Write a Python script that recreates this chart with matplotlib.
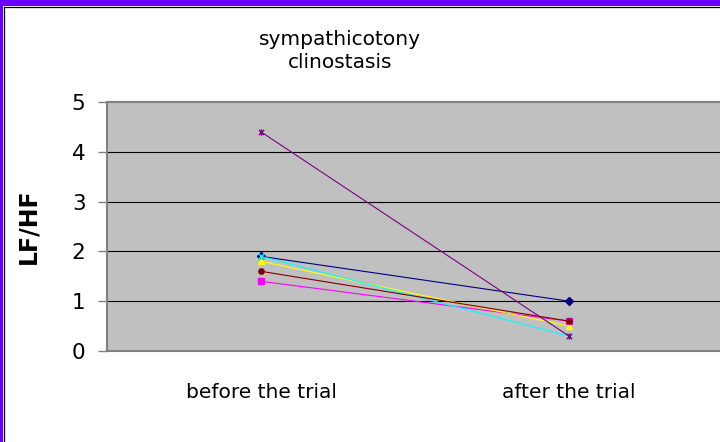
import matplotlib
matplotlib.use("Agg")
import matplotlib.pyplot as plt
from matplotlib.patches import Rectangle
from matplotlib.lines import Line2D
from matplotlib.path import Path

categories = ["before the trial", "after the trial"]
series_values = [
    [1.9, 1.0],
    [1.4, 0.6],
    [1.8, 0.5],
    [1.9, 0.3],
    [4.4, 0.3],
    [1.6, 0.6],
]
series_colors = ["#000080", "#FF00FF", "#FFFF00", "#00FFFF", "#800080", "#800000"]
y_ticks = [0, 1, 2, 3, 4, 5]
title = "sympathicotony\nclinostasis"
y_label = "LF/HF"

plt.rcParams['font.family'] = ['DejaVu Sans']

star = Path([(-1, -1), (1, 1), (-1, 1), (1, -1), (0, -1.2), (0, 1.2)],
            [Path.MOVETO, Path.LINETO, Path.MOVETO, Path.LINETO, Path.MOVETO, Path.LINETO])
series_markers = ["D", "s", "^", "x", star, "o"]

W, H = 720, 442
fig = plt.figure(figsize=(W / 100, H / 100), dpi=100)
fig.patch.set_facecolor("white")

left, right, top, bottom = 107, 723, 102, 351
ax = fig.add_axes([left / W, 1 - bottom / H, (right - left) / W, (bottom - top) / H])
ax.set_facecolor("#C0C0C0")

x = list(range(len(categories)))
for vals, c, m in zip(series_values, series_colors, series_markers):
    ms = 3.8 if isinstance(m, str) and m in ("D", "s", "o", "^") else 4.5
    ax.plot(x, vals, color=c, lw=0.8, marker=m, ms=ms, mfc=c, mec=c, mew=1, zorder=3)

ax.set_xlim(-0.5, len(categories) - 0.5)
ax.set_ylim(min(y_ticks), max(y_ticks))
ax.set_yticks(y_ticks)
ax.set_xticks(x)
ax.set_xticklabels(categories, fontsize=14.5)
ax.tick_params(axis="x", length=0, pad=23)
ax.tick_params(axis="y", length=6.5, width=1, color="#808080", pad=9, labelsize=15.5)
for yv in y_ticks[1:-1]:
    ax.axhline(yv, color="black", lw=0.8, zorder=1)
for sp in ax.spines.values():
    sp.set_color("#808080")
    sp.set_linewidth(1.5)

fig.text(340 / W, 1 - 51 / H, title, ha="center", va="center", fontsize=14.5, linespacing=1.25)
fig.text(28 / W, 1 - 226 / H, y_label, ha="center", va="center", rotation=90,
         fontsize=17, fontweight="bold")

# purple frame (top and left edges)
fig.patches.append(Rectangle((0, 1 - 6 / H), 1, 6 / H, transform=fig.transFigure,
                             facecolor="#6600FF", edgecolor="none", zorder=10))
fig.patches.append(Rectangle((0, 0), 3 / W, 1, transform=fig.transFigure,
                             facecolor="#6600FF", edgecolor="none", zorder=10))
fig.lines.append(Line2D([3.5 / W, 1], [1 - 6.5 / H, 1 - 6.5 / H], transform=fig.transFigure,
                        color="black", lw=0.9, zorder=11))
fig.lines.append(Line2D([3.5 / W, 3.5 / W], [0, 1 - 6.5 / H], transform=fig.transFigure,
                        color="black", lw=0.9, zorder=11))

fig.savefig("out.png", dpi=100)
